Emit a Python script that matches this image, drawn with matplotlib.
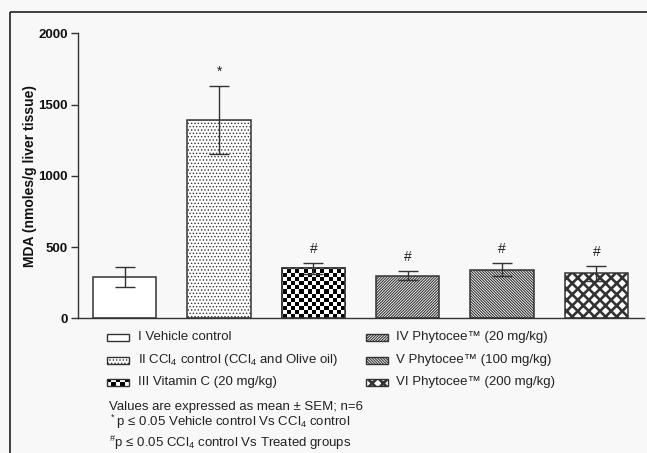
import matplotlib
matplotlib.use("Agg")
import matplotlib.pyplot as plt
import numpy as np
from matplotlib.patches import Rectangle

plt.rcParams['font.family'] = ['Liberation Sans', 'DejaVu Sans']
plt.rcParams['mathtext.default'] = 'regular'
plt.rcParams['hatch.color'] = 'black'

# data
groups = ["I Vehicle control",
          "II CCl$_4$ control (CCl$_4$ and Olive oil)",
          "III Vitamin C (20 mg/kg)",
          "IV Phytocee\u2122 (20 mg/kg)",
          "V Phytocee\u2122 (100 mg/kg)",
          "VI Phytocee\u2122 (200 mg/kg)"]
mda_mean = [290, 1390, 350, 300, 340, 315]
mda_sem = [70, 240, 40, 33, 45, 52]
signif = ["", "*", "#", "#", "#", "#"]
hatches = ["", ".....", None, "/" * 12, "\\" * 12, "xxx"]
notes = ["Values are expressed as mean \u00b1 SEM; n=6",
         "$^*$p \u2264 0.05 Vehicle control Vs CCl$_4$ control",
         "$^{\\#}$p \u2264 0.05 CCl$_4$ control Vs Treated groups"]

W, H = 647, 453
fig = plt.figure(figsize=(W / 100, H / 100), dpi=100, facecolor='#f8f8f8')
ax = fig.add_axes([77.6 / W, 1 - 318.3 / H, 566 / W, 285 / H])
ax.set_facecolor('none')

x = np.arange(len(mda_mean))
edge = '#333333'
hatch_lw = [1.0, 0.6, 1.0, 0.8, 0.8, 1.9]
bars = ax.bar(x, mda_mean, width=0.67, color='white', edgecolor=edge, linewidth=1.1, zorder=2)
for b, h, lw in zip(bars, hatches, hatch_lw):
    if h:
        b.set_hatch(h)
    if hasattr(b, 'set_hatch_linewidth'):
        b.set_hatch_linewidth(lw)

ax.errorbar(x, mda_mean, yerr=mda_sem, fmt='none', ecolor=edge, elinewidth=1.0,
            capsize=7, capthick=1.0, zorder=4)

for xi, m, s, t in zip(x, mda_mean, mda_sem, signif):
    if t:
        ax.annotate(t, (xi, m + s), xytext=(0, 5), textcoords='offset points',
                    ha='center', va='bottom', fontsize=10, color='#222222')

ax.set_xlim(-0.5, 5.5)
ax.set_ylim(0, 2000)
ax.set_yticks([0, 500, 1000, 1500, 2000])
ax.set_xticks([])
for sp in ['top', 'right']:
    ax.spines[sp].set_visible(False)
for sp in ['left', 'bottom']:
    ax.spines[sp].set_color(edge)
    ax.spines[sp].set_linewidth(1.0)
ax.tick_params(axis='y', length=5, width=1.0, color=edge, pad=2, labelsize=9.5)
for lab in ax.get_yticklabels():
    lab.set_fontweight('bold')
    lab.set_color('#111111')
ax.set_ylabel("MDA (nmoles/g liver tissue)", fontsize=10, fontweight='bold',
              color='#111111', labelpad=1)

# checkerboard fill for the Vitamin C bar
cell = 4.1
nx = int(round(566 / cell))
ny = int(round(285 / cell))
checker = np.indices((ny, nx)).sum(axis=0) % 2
img = ax.imshow(checker, cmap='gray_r', interpolation='nearest', aspect='auto',
                extent=(-0.5, 5.5, 0, 2000), zorder=2.5, vmin=0, vmax=1)
img.set_clip_path(bars[2])
ax.bar(x[2], mda_mean[2], width=0.67, fill=False, edgecolor=edge, linewidth=1.1, zorder=3)
ax.set_xlim(-0.5, 5.5)
ax.set_ylim(0, 2000)

# overlay for frame, legend and notes (pixel coords)
lax = fig.add_axes([0, 0, 1, 1])
lax.set_xlim(0, W)
lax.set_ylim(H, 0)
lax.axis('off')
lax.set_facecolor('none')
lax.add_patch(Rectangle((10, 12.3), W, H, fill=False, edgecolor='#222222', linewidth=1.2))

rows = [337, 360, 382]
cols = [(107, 138), (366, 396)]
sw_w, sw_h = 22, 7
for i, name in enumerate(groups):
    (sx, tx) = cols[i // 3]
    yc = rows[i % 3]
    top = yc - sw_h / 2
    if hatches[i] is None:
        lax.add_patch(Rectangle((sx, top), sw_w, sw_h, facecolor='white', edgecolor='none'))
        cw, ch = sw_w / 5, sw_h / 2
        for r in range(2):
            for c in range(5):
                if (r + c) % 2 == 0:
                    lax.add_patch(Rectangle((sx + c * cw, top + r * ch), cw, ch,
                                            facecolor='black', edgecolor='none'))
        lax.add_patch(Rectangle((sx, top), sw_w, sw_h, fill=False,
                                edgecolor=edge, linewidth=1.0))
    else:
        p = Rectangle((sx, top), sw_w, sw_h, facecolor='white',
                      edgecolor=edge, linewidth=1.0, hatch=hatches[i])
        if hasattr(p, 'set_hatch_linewidth'):
            p.set_hatch_linewidth(hatch_lw[i])
        lax.add_patch(p)
    lax.text(tx, yc, name, fontsize=9.5, va='center', ha='left', color='#222222')

for yc, t in zip([407, 422, 443], notes):
    lax.text(108.7, yc, t, fontsize=9.5, va='center', ha='left', color='#222222')

fig.savefig("out.png", dpi=100, facecolor=fig.get_facecolor())
